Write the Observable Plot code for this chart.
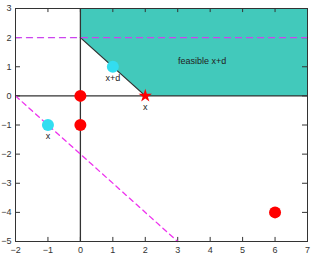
<!DOCTYPE html>
<html><head><meta charset="utf-8">
<script src="https://cdn.jsdelivr.net/npm/d3@7"></script>
<script src="https://cdn.jsdelivr.net/npm/@observablehq/plot@0.6"></script>
<style>body{margin:0;background:#fff}</style>
</head><body><div id="chart"></div>
<script>
const xTicks = [-2,-1,0,1,2,3,4,5,6,7];
const yTicks = [-5,-4,-3,-2,-1,0,1,2,3];
const feasibleRegion = [[0,3],[7,3],[7,0],[2,0],[0,2]];
const boundary = [[0,2],[2,0]];
const dashH = [[-2,2],[7,2]];
const dashD = [[-2,0],[3,-5]];
const redPts = [[0,0],[0,-1],[6,-4]];
const starPt = [[2,0]];
const cyanPts = [[1,1],[-1,-1]];
const labels = [{x:1,y:1,t:"x+d"},{x:-1,y:-1,t:"x"},{x:2,y:0,t:"x"}];
const regionLabel = [{x:3.75,y:1.2,t:"feasible x+d"}];

const tickLen = 0.14;
const chart = Plot.plot({
  width:311, height:258,
  marginLeft:15, marginRight:4, marginTop:8, marginBottom:17,
  style:{fontFamily:"Liberation Sans, Arial, sans-serif", fontSize:"9px", color:"#333"},
  x:{domain:[-2,7], ticks:xTicks, tickSize:0, tickPadding:5, label:null},
  y:{domain:[-5,3], ticks:yTicks, tickSize:0, tickPadding:4, label:null},
  marks:[
    Plot.line(feasibleRegion.concat([feasibleRegion[0]]), {x:d=>d[0], y:d=>d[1], fill:"#42c9bb", stroke:"none"}),
    Plot.ruleX([0], {y1:-5, y2:3, stroke:"#333", strokeWidth:1.3}),
    Plot.ruleY([0], {x1:-2, x2:7, stroke:"#333", strokeWidth:1.3}),
    Plot.ruleX(xTicks, {x:d=>d, y1:-5, y2:-5+tickLen, stroke:"#333"}),
    Plot.ruleX(xTicks, {x:d=>d, y1:3, y2:3-tickLen, stroke:"#333"}),
    Plot.ruleY(yTicks, {y:d=>d, x1:-2, x2:-2+tickLen*1.1, stroke:"#333"}),
    Plot.ruleY(yTicks, {y:d=>d, x1:7, x2:7-tickLen*1.1, stroke:"#333"}),
    Plot.line(boundary, {x:d=>d[0], y:d=>d[1], stroke:"#333", strokeWidth:1.3}),
    Plot.line(dashH, {x:d=>d[0], y:d=>d[1], stroke:"#cc44ee", strokeWidth:1.3, strokeDasharray:"6,5"}),
    Plot.line(dashD, {x:d=>d[0], y:d=>d[1], stroke:"#ee33ee", strokeWidth:1.3, strokeDasharray:"5,4"}),
    Plot.dot(redPts, {x:d=>d[0], y:d=>d[1], r:6, fill:"#ff0000", stroke:"none"}),
    Plot.dot(starPt, {x:d=>d[0], y:d=>d[1], r:4.2, symbol:"star", fill:"#ff0000", stroke:"none"}),
    Plot.dot(cyanPts, {x:d=>d[0], y:d=>d[1], r:6, fill:"#33ddf0", stroke:"none"}),
    Plot.text(labels, {x:"x", y:"y", text:"t", dy:11, fill:"#222", fontSize:9}),
    Plot.text(regionLabel, {x:"x", y:"y", text:"t", fill:"#222", fontSize:9}),
    Plot.frame({stroke:"#333"})
  ]
});
document.getElementById("chart").append(chart);
</script></body></html>
